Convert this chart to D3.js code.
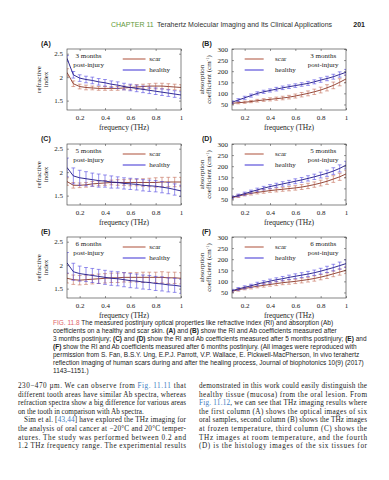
<!DOCTYPE html>
<html>
<head>
<meta charset="utf-8">
<script src="https://cdn.jsdelivr.net/npm/d3@7"></script>
<style>
  body { margin: 0; background: #fff; }
  svg { display: block; }
</style>
</head>
<body>
<svg id="page" width="389" height="480"></svg>
<script>
// ---- data ----
const freq = [0.10,0.15,0.20,0.25,0.30,0.35,0.40,0.45,0.50,0.55,0.60,0.65,0.70,0.75,0.80,0.85,0.90,0.95,1.00];
const xTicks = [0.2, 0.4, 0.6, 0.8, 1];
const xTickLabels = ["0.2", "0.4", "0.6", "0.8", "1"];
const riTicks = [1.5, 2, 2.5];
const riTickLabels = ["1.5", "2", "2.5"];
const abTicks = [50, 100, 150, 200, 250, 300];
const abTickLabels = ["50", "100", "150", "200", "250", "300"];

// 3 months
const scarRI3 = [2.10,1.86,1.80,1.78,1.77,1.76,1.76,1.76,1.76,1.77,1.78,1.79,1.80,1.81,1.81,1.81,1.80,1.79,1.78];
const scarRI3Err = [0.08,0.06,0.05,0.05,0.04,0.04,0.04,0.04,0.04,0.04,0.05,0.05,0.05,0.05,0.06,0.06,0.06,0.06,0.06];
const healthyRI3 = [2.40,2.05,1.98,1.95,1.93,1.90,1.88,1.85,1.83,1.80,1.78,1.76,1.74,1.72,1.70,1.68,1.66,1.64,1.62];
const healthyRI3Err = [0.06,0.07,0.07,0.07,0.07,0.07,0.07,0.07,0.07,0.07,0.07,0.07,0.07,0.07,0.07,0.07,0.07,0.07,0.07];
const scarAb3 = [55,58,60,63,67,70,73,76,79,83,88,94,100,107,115,125,136,150,165];
const scarAb3Err = [5,5,5,5,6,6,7,7,8,8,9,10,11,12,13,14,15,16,17];
const healthyAb3 = [60,70,80,90,100,107,113,119,125,130,135,140,145,152,160,167,175,185,195];
const healthyAb3Err = [6,6,7,7,7,7,7,8,8,8,8,8,9,9,10,10,11,12,13];

// 5 months
const scarRI5 = [1.80,1.72,1.72,1.73,1.75,1.76,1.77,1.78,1.78,1.78,1.78,1.78,1.78,1.78,1.78,1.79,1.79,1.79,1.79];
const scarRI5Err = [0.08,0.06,0.05,0.05,0.05,0.05,0.05,0.05,0.06,0.06,0.07,0.07,0.08,0.09,0.10,0.10,0.10,0.10,0.10];
const healthyRI5 = [2.10,1.92,1.88,1.86,1.84,1.82,1.81,1.79,1.78,1.76,1.75,1.74,1.72,1.71,1.70,1.68,1.66,1.63,1.60];
const healthyRI5Err = [0.20,0.17,0.16,0.15,0.14,0.14,0.13,0.13,0.12,0.12,0.12,0.12,0.12,0.12,0.12,0.12,0.12,0.12,0.12];
const scarAb5 = [58,65,72,77,82,86,90,93,96,99,102,106,111,117,124,132,142,152,165];
const scarAb5Err = [6,6,6,7,7,8,8,9,9,10,10,11,12,12,13,14,15,16,17];
const healthyAb5 = [60,68,76,85,93,101,108,114,120,126,132,138,145,152,160,168,178,190,205];
const healthyAb5Err = [6,6,7,7,8,8,9,9,10,10,11,11,12,12,13,14,15,16,17];

// 6 months
const scarRI6 = [1.72,1.69,1.68,1.69,1.70,1.71,1.72,1.73,1.73,1.74,1.74,1.74,1.74,1.74,1.74,1.74,1.73,1.73,1.72];
const scarRI6Err = [0.10,0.10,0.10,0.10,0.10,0.10,0.10,0.10,0.10,0.10,0.10,0.10,0.11,0.11,0.11,0.12,0.12,0.12,0.12];
const healthyRI6 = [2.05,1.86,1.82,1.80,1.78,1.76,1.74,1.72,1.71,1.69,1.67,1.66,1.64,1.63,1.61,1.60,1.58,1.57,1.55];
const healthyRI6Err = [0.22,0.18,0.16,0.15,0.15,0.15,0.15,0.15,0.15,0.15,0.15,0.15,0.15,0.15,0.15,0.15,0.15,0.15,0.15];
const scarAb6 = [55,62,68,73,78,82,86,90,94,97,100,104,108,113,119,126,134,142,150];
const scarAb6Err = [5,6,6,7,7,8,8,9,9,10,10,11,11,12,12,13,13,14,15];
const healthyAb6 = [58,66,73,80,88,95,101,107,112,118,123,128,133,139,146,154,162,171,180];
const healthyAb6Err = [6,6,7,7,8,8,9,9,10,10,11,11,12,12,13,14,15,16,17];

const captionLines = [
  "{FIG. 11.8} The measured postinjury optical properties like refractive index (RI) and absorption (Ab)",
  "coefficients on a healthy and scar skin. *(A)* and *(B)* show the RI and Ab coefficients measured after",
  "3 months postinjury; *(C)* and *(D)* show the RI and Ab coefficients measured after 5 months postinjury; *(E)* and",
  "*(F)* show the RI and Ab coefficients measured after 6 months postinjury. (All images were reproduced with",
  "permission from S. Fan, B.S.Y. Ung, E.P.J. Parrott, V.P. Wallace, E. Pickwell-MacPherson, In vivo terahertz",
  "reflection imaging of human scars during and after the healing process, Journal of biophotonics 10(9) (2017)",
  "1143\u20131151.)"
];
const leftCol = [
  "230\u2212470 \u00b5m. We can observe from {Fig. 11.11} that",
  "different tooth areas have similar Ab spectra, whereas",
  "refraction spectra show a big difference for various areas",
  "on the tooth in comparison with Ab spectra.",
  "Sim et al. [{43,44}] have explored the THz imaging for",
  "the analysis of oral cancer at \u221220\u00b0C and 20\u00b0C temper-",
  "atures. The study was performed between 0.2 and",
  "1.2 THz frequency range. The experimental results"
];
const rightCol = [
  "demonstrated in this work could easily distinguish the",
  "healthy tissue (mucosa) from the oral lesion. From",
  "{Fig. 11.12}, we can see that THz imaging results where",
  "the first column (A) shows the optical images of six",
  "oral samples, second column (B) shows the THz images",
  "at frozen temperature, third column (C) shows the",
  "THz images at room temperature, and the fourth",
  "(D) is the histology images of the six tissues for"
];

// ---- layout ----
const svg = d3.select("#page");
const serif = "'Liberation Serif', 'Times New Roman', serif";
const sans = "'Liberation Sans', Arial, sans-serif";
const boxW = 114, boxH = 61;
const colX = [67, 232];
const rowY = [49, 144, 237];
const scarCol = { bar: "#c46c58", line: "#8a3626", legend: "#b5604c" };
const healthyCol = { bar: "#5248e0", line: "#1c1488", legend: "#4d43d8" };

svg.append("rect").attr("width", 389).attr("height", 480).attr("fill", "#fff");

// header
const hdr = svg.append("text").attr("y", 27).attr("font-family", sans).attr("font-size", 7);
hdr.append("tspan").attr("x", 111).attr("fill", "#5f9a3a").text("CHAPTER 11");
hdr.append("tspan").attr("x", 157).attr("fill", "#333").text("Terahertz Molecular Imaging and Its Clinical Applications");
svg.append("text").attr("x", 365).attr("y", 27).attr("text-anchor", "end")
  .attr("font-family", sans).attr("font-size", 7).attr("font-weight", "bold").attr("fill", "#222").text("201");

function rich(textSel, str, linkColor) {
  str.split(/(\*[^*]+\*|\{[^}]+\})/).filter(s => s).forEach(s => {
    const t = textSel.append("tspan");
    if (s[0] === "*") t.attr("font-weight", "bold").text(s.slice(1, -1));
    else if (s[0] === "{") t.attr("fill", linkColor).text(s.slice(1, -1));
    else t.text(s);
  });
}

let clipId = 0;
function drawPanel(cfg) {
  const g = svg.append("g");
  const x0 = cfg.x0, y0 = cfg.y0;
  const x = d3.scaleLinear().domain([0.1, 1]).range([x0, x0 + boxW]);
  const y = d3.scaleLinear().domain(cfg.yDomain).range([y0 + boxH, y0]);
  const id = "clip" + (clipId++);
  g.append("clipPath").attr("id", id).append("rect")
    .attr("x", x0).attr("y", y0).attr("width", boxW).attr("height", boxH);
  const plot = g.append("g").attr("clip-path", `url(#${id})`);

  const series = [
    { m: cfg.scar, e: cfg.scarErr, c: scarCol },
    { m: cfg.healthy, e: cfg.healthyErr, c: healthyCol }
  ];
  series.forEach(s => {
    let p = "";
    freq.forEach((f, i) => {
      const xi = x(f), lo = y(s.m[i] - s.e[i]), hi = y(s.m[i] + s.e[i]);
      p += `M${xi},${lo}V${hi}M${xi - 1.9},${lo}h3.8M${xi - 1.9},${hi}h3.8`;
    });
    plot.append("path").attr("d", p).attr("fill", "none")
      .attr("stroke", s.c.bar).attr("stroke-width", 0.6);
    plot.append("path").datum(s.m)
      .attr("d", d3.line().x((d, i) => x(freq[i])).y(d => y(d)))
      .attr("fill", "none").attr("stroke", s.c.line).attr("stroke-width", 0.9);
  });

  // axes (MATLAB-style inward ticks on all sides)
  const styleAxis = a => {
    a.select(".domain").remove();
    a.selectAll("line").attr("stroke", "#333").attr("stroke-width", 0.5);
    a.selectAll("text").attr("font-family", serif).attr("font-size", 7).attr("fill", "#222");
    a.attr("font-family", null).attr("font-size", null);
  };
  g.append("g").attr("transform", `translate(0,${y0 + boxH})`)
    .call(d3.axisBottom(x).tickValues(xTicks).tickSize(-2).tickPadding(5)
      .tickFormat((d, i) => xTickLabels[i])).call(styleAxis);
  g.append("g").attr("transform", `translate(0,${y0})`)
    .call(d3.axisTop(x).tickValues(xTicks).tickSize(-2).tickFormat("")).call(styleAxis);
  g.append("g").attr("transform", `translate(${x0},0)`)
    .call(d3.axisLeft(y).tickValues(cfg.yTicks).tickSize(-2).tickPadding(4)
      .tickFormat((d, i) => cfg.yTickLabels[i])).call(styleAxis);
  g.append("g").attr("transform", `translate(${x0 + boxW},0)`)
    .call(d3.axisRight(y).tickValues(cfg.yTicks).tickSize(-2).tickFormat("")).call(styleAxis);
  g.append("rect").attr("x", x0).attr("y", y0).attr("width", boxW).attr("height", boxH)
    .attr("fill", "none").attr("stroke", "#333").attr("stroke-width", 0.6);

  // x label
  g.append("text").attr("x", x0 + boxW / 2).attr("y", y0 + boxH + 20).attr("text-anchor", "middle")
    .attr("font-family", serif).attr("font-size", 7.5).attr("fill", "#222").text("frequency (THz)");

  // y label, two lines
  const yl = g.append("text")
    .attr("transform", `translate(${x0 - cfg.yLabOff},${y0 + boxH / 2}) rotate(-90)`)
    .attr("text-anchor", "middle").attr("font-family", serif).attr("font-size", 7).attr("fill", "#222");
  yl.append("tspan").attr("x", 0).attr("dy", 0).text(cfg.yLab[0]);
  yl.append("tspan").attr("x", 0).attr("dy", "1.0em").text(cfg.yLab[1]);
  if (cfg.yLabSup) {
    yl.append("tspan").attr("font-size", 4.5).attr("dy", -2.5).text(cfg.yLabSup);
    yl.append("tspan").attr("dy", 2.5).text(")");
  }

  // panel label
  svg.append("text").attr("x", x0 - cfg.tagOff).attr("y", y0 - 3.5)
    .attr("font-family", sans).attr("font-size", 7).attr("font-weight", "bold").attr("fill", "#222")
    .text(cfg.tag);

  // note
  const nt = g.append("text").attr("text-anchor", "middle").attr("font-family", serif)
    .attr("font-size", 7).attr("fill", "#222");
  nt.append("tspan").attr("x", x(cfg.noteF)).attr("y", y0 + 9).text(cfg.note);
  nt.append("tspan").attr("x", x(cfg.noteF)).attr("y", y0 + 18).text("post-injury");

  // legend
  [["scar", scarCol, 10], ["healthy", healthyCol, 21]].forEach(([name, c, dy]) => {
    const ly = y0 + dy;
    g.append("line").attr("x1", x(cfg.legF[0])).attr("x2", x(cfg.legF[1]))
      .attr("y1", ly).attr("y2", ly).attr("stroke", c.legend).attr("stroke-width", 1.1);
    g.append("text").attr("x", x(cfg.legF[2])).attr("y", ly + 2.3)
      .attr("font-family", serif).attr("font-size", 7).attr("fill", "#222").text(name);
  });
}

const riBase = { yDomain: [1.3, 2.6], yTicks: riTicks, yTickLabels: riTickLabels,
  yLab: ["refractive", "index"], yLabOff: 26, tagOff: 26, noteF: 0.27, legF: [0.54, 0.72, 0.75] };
const abBase = { yDomain: [25, 300], yTicks: abTicks, yTickLabels: abTickLabels,
  yLab: ["absorption", "coefficient (cm"], yLabSup: "-1", yLabOff: 28, tagOff: 30, noteF: 0.82, legF: [0.2, 0.35, 0.44] };

drawPanel(Object.assign({}, riBase, { x0: colX[0], y0: rowY[0], tag: "(A)", note: "3 months",
  scar: scarRI3, scarErr: scarRI3Err, healthy: healthyRI3, healthyErr: healthyRI3Err }));
drawPanel(Object.assign({}, abBase, { x0: colX[1], y0: rowY[0], tag: "(B)", note: "3 months",
  scar: scarAb3, scarErr: scarAb3Err, healthy: healthyAb3, healthyErr: healthyAb3Err }));
drawPanel(Object.assign({}, riBase, { x0: colX[0], y0: rowY[1], tag: "(C)", note: "5 months",
  scar: scarRI5, scarErr: scarRI5Err, healthy: healthyRI5, healthyErr: healthyRI5Err }));
drawPanel(Object.assign({}, abBase, { x0: colX[1], y0: rowY[1], tag: "(D)", note: "5 months",
  scar: scarAb5, scarErr: scarAb5Err, healthy: healthyAb5, healthyErr: healthyAb5Err }));
drawPanel(Object.assign({}, riBase, { x0: colX[0], y0: rowY[2], tag: "(E)", note: "6 months",
  scar: scarRI6, scarErr: scarRI6Err, healthy: healthyRI6, healthyErr: healthyRI6Err }));
drawPanel(Object.assign({}, abBase, { x0: colX[1], y0: rowY[2], tag: "(F)", note: "6 months",
  scar: scarAb6, scarErr: scarAb6Err, healthy: healthyAb6, healthyErr: healthyAb6Err }));

// caption
captionLines.forEach((line, i) => {
  const t = svg.append("text").attr("x", 53).attr("y", 325 + i * 8)
    .attr("font-family", sans).attr("font-size", 6.5).attr("fill", "#222");
  rich(t, line, "#e0646a");
});

// body text, two justified columns
function column(lines, x0, width, indentIdx, lastIdx) {
  lines.forEach((line, i) => {
    const ind = i === indentIdx ? 6 : 0;
    const t = svg.append("text").attr("x", x0 + ind).attr("y", 388 + i * 8.6)
      .attr("font-family", serif).attr("font-size", 7.2).attr("fill", "#222");
    if (!lastIdx.includes(i)) t.attr("textLength", width - ind).attr("lengthAdjust", "spacing");
    rich(t, line, "#3d7cc0");
  });
}
column(leftCol, 18, 168, 4, [3]);
column(rightCol, 199, 168, -1, []);
</script>
</body>
</html>
